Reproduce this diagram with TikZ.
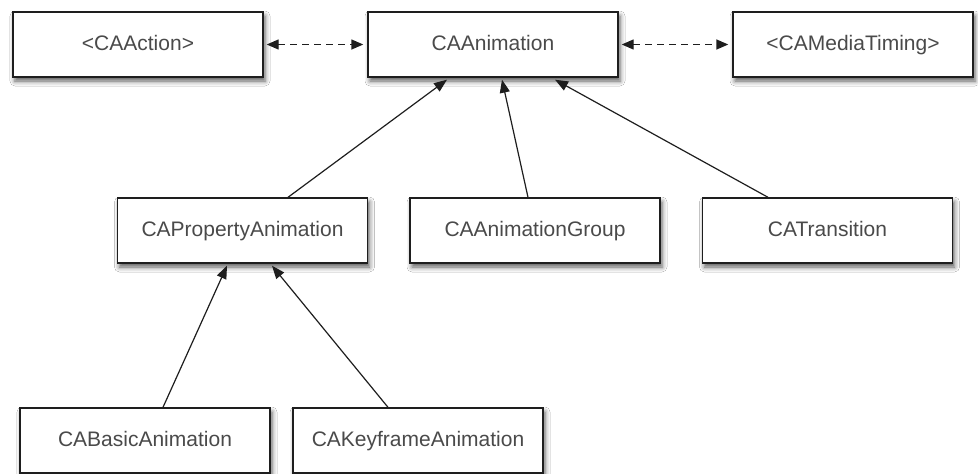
\documentclass[tikz,border=0pt]{standalone}
\usepackage{fontspec}
\setmainfont{Liberation Sans}
\usetikzlibrary{arrows.meta,shadows.blur}
\definecolor{txtgray}{HTML}{4A4A4A}
\definecolor{linegray}{HTML}{1E1E1E}
\begin{document}
\begin{tikzpicture}[x=1pt,y=-1pt,
  classbox/.style={draw=linegray, line width=1.4pt, fill=white,
    minimum width=250pt, minimum height=65pt, inner sep=0pt,
    text height=15pt, text depth=4pt,
    text=txtgray, font=\fontsize{21}{25}\selectfont,
    blur shadow={shadow xshift=2pt, shadow yshift=-4pt, shadow blur radius=5pt, shadow opacity=65}},
  inherit/.style={draw=linegray, line width=1.2pt, -{Triangle[length=13pt,width=10pt]}},
  assoc/.style={draw=linegray, line width=1.4pt, dash pattern=on 7pt off 5pt,
    {Triangle[length=12pt,width=10pt]}-{Triangle[length=12pt,width=10pt]}, shorten <=3pt, shorten >=4pt}
]
\useasboundingbox[fill=white] (0,0) rectangle (978,474);

\node[classbox] (action) at (138,44.5) {<CAAction>};
\node[classbox] (anim) at (493,44.5) {CAAnimation};
\node[classbox, minimum width=240pt] (timing) at (853,44.5) {<CAMediaTiming>};

\node[classbox] (prop) at (242.5,230.5) {CAPropertyAnimation};
\node[classbox] (group) at (535,230.5) {CAAnimationGroup};
\node[classbox] (trans) at (827.5,230.5) {CATransition};

\node[classbox] (basic) at (145,440.5) {CABasicAnimation};
\node[classbox] (key) at (418,440.5) {CAKeyframeAnimation};

\draw[assoc] (action.east) -- (anim.west);
\draw[assoc] (anim.east) -- (timing.west);

\draw[inherit] ([xshift=45.5pt]prop.north) -- ([xshift=-46pt,yshift=-2pt]anim.south);
\draw[inherit] ([xshift=-7pt]group.north) -- ([xshift=9pt,yshift=-2pt]anim.south);
\draw[inherit] ([xshift=-59.5pt]trans.north) -- ([xshift=62pt,yshift=-2pt]anim.south);

\draw[inherit] ([xshift=18pt]basic.north) -- ([xshift=-15.5pt,yshift=-2pt]prop.south);
\draw[inherit] ([xshift=-30pt]key.north) -- ([xshift=29.5pt,yshift=-2pt]prop.south);
\end{tikzpicture}
\end{document}
